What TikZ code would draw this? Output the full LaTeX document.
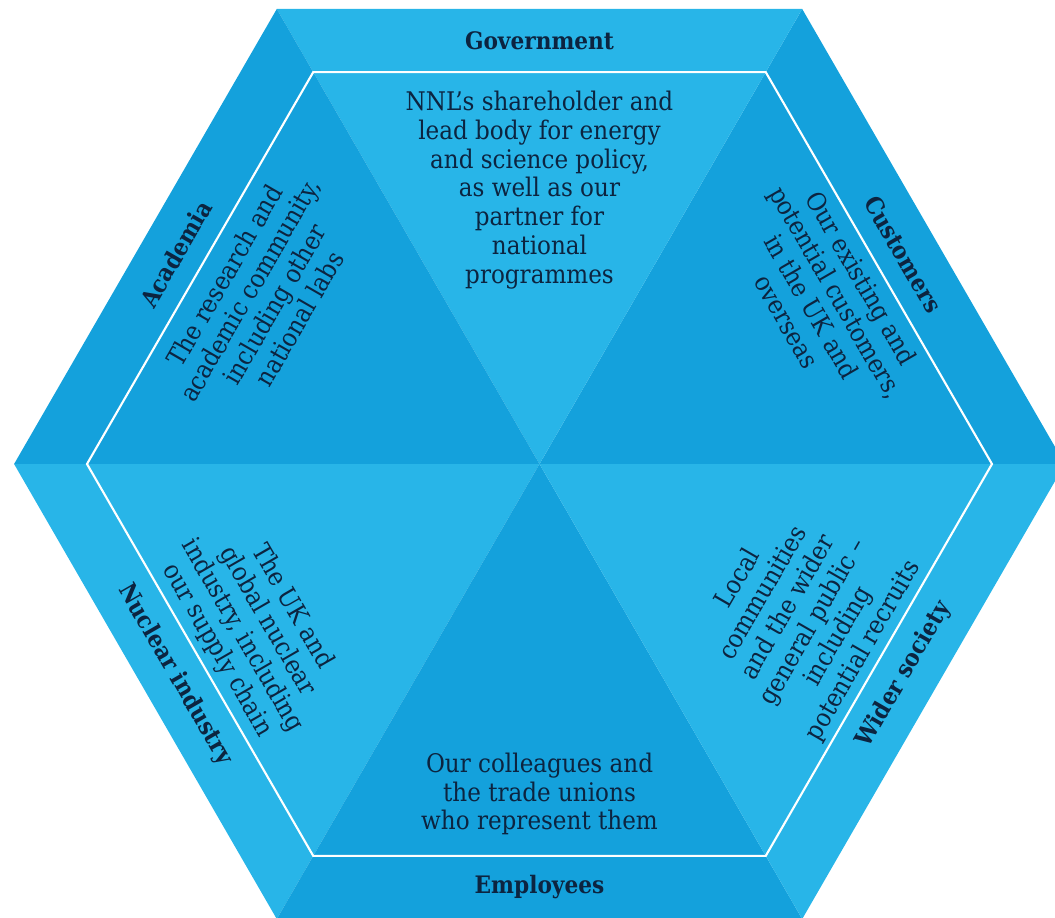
\documentclass[tikz,border=0pt]{standalone}
\usepackage{fontspec}
\setmainfont{DejaVu Serif Condensed}[BoldFont={DejaVu Serif Condensed Bold}]
\usepackage{xcolor}
\definecolor{hexlight}{RGB}{40,181,232}
\definecolor{hexdark}{RGB}{20,161,220}
\definecolor{hexink}{RGB}{12,36,64}

\begin{document}
\begin{tikzpicture}[x=0.02cm, y=0.02cm,
					band/.style={text=hexink, font=\bfseries\fontsize{13.7}{15}\selectfont},
					blurb/.style={text=hexink, align=center, font=\fontsize{14.6}{16.4}\selectfont}]
    \useasboundingbox (-539.5,-453) rectangle (515.5,464);
    \clip (-539.5,-453) rectangle (515.5,464);
    % Fill the six sectors
    \fill[hexdark]  (0,0) -- (0:525.4)   -- (60:525.4)  -- cycle;
    \fill[hexlight] (0,0) -- (60:525.4)  -- (120:525.4) -- cycle;
    \fill[hexdark]  (0,0) -- (120:525.4) -- (180:525.4) -- cycle;
    \fill[hexlight] (0,0) -- (180:525.4) -- (240:525.4) -- cycle;
    \fill[hexdark]  (0,0) -- (240:525.4) -- (300:525.4) -- cycle;
    \fill[hexlight] (0,0) -- (300:525.4) -- (360:525.4) -- cycle;
    % Inner outline
    \draw[white, line width=1.2pt] (0:452.5) -- (60:452.5) -- (120:452.5)
        -- (180:452.5) -- (240:452.5) -- (300:452.5) -- cycle;
    % Place nodes
    \node [band] (gov) at (90:423) {Government};
    \node [band, rotate=-60] (cust) at (30:420) {Customers};
    \node [band, rotate=60] (wider) at (330:421) {Wider society};
    \node [band] (empl) at (270:423) {Employees};
    \node [band, rotate=-60] (nucl) at (210:421) {Nuclear industry};
    \node [band, rotate=60] (acad) at (150:420) {Academia};

    \node [blurb] (govtext) at (90:274) {NNL’s shareholder and\\
    	lead body for energy\\and science policy,\\as well as our\\
    	partner for\\national\\programmes};
    \node [blurb, rotate=-60] (custtext) at (30:329) {Our existing and\\
    	potential customers,\\in the UK and\\overseas};
    \node [blurb, rotate=60] (widertext) at (330:302) {Local\\communities\\
    	and the wider\\general public –\\including\\potential recruits};
    \node [blurb] (empltext) at (270:330) {Our colleagues and\\
    	the trade unions\\who represent them};
    \node [blurb, rotate=-60] (nucltext) at (210:329) {The UK and\\
    	global nuclear\\industry, including\\our supply chain};
    \node [blurb, rotate=60] (acadtext) at (149:324) {The research and\\
    	academic community,\\including other\\national labs};
\end{tikzpicture}
\end{document}
